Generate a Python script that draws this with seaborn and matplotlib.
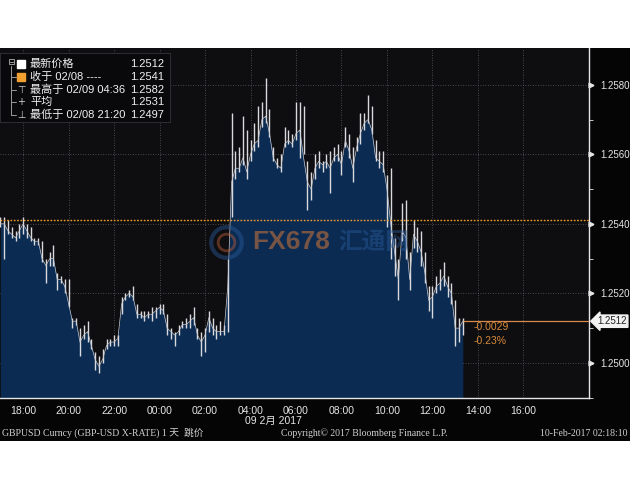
import pandas as pd
import matplotlib
matplotlib.use("Agg")
import matplotlib.pyplot as plt
import matplotlib.dates as mdates
import matplotlib.transforms as mtransforms
import seaborn as sns

# 10-minute bars, GBPUSD, 2017-02-08 17:00 -> 2017-02-09 13:20
start = "2017-02-08 17:00"
close = [1.2540, 1.2540, 1.2538, 1.2537, 1.2536, 1.2538, 1.2540, 1.2538, 1.2536, 1.2535,
         1.2535, 1.2530, 1.2528, 1.2530, 1.2530, 1.2524, 1.2524, 1.2522, 1.2517, 1.2512,
         1.2512, 1.2506, 1.2508, 1.2509, 1.2505, 1.2501, 1.2499, 1.2501, 1.2505, 1.2506,
         1.2506, 1.2507, 1.2517, 1.2519, 1.2520, 1.2519, 1.2514, 1.2514, 1.2513, 1.2514,
         1.2514, 1.2515, 1.2516, 1.2515, 1.2510, 1.2509, 1.2508, 1.2509, 1.2511, 1.2511,
         1.2512, 1.2513, 1.2508, 1.2506, 1.2508, 1.2513, 1.2510, 1.2509, 1.2509, 1.2509,
         1.2522, 1.2552, 1.2556, 1.2556, 1.2559, 1.2555, 1.2560, 1.2563, 1.2564, 1.2570,
         1.2571, 1.2566, 1.2559, 1.2557, 1.2556, 1.2563, 1.2564, 1.2563, 1.2566, 1.2567,
         1.2559, 1.2552, 1.2550, 1.2556, 1.2558, 1.2557, 1.2558, 1.2556, 1.2559, 1.2560,
         1.2557, 1.2564, 1.2561, 1.2556, 1.2562, 1.2566, 1.2569, 1.2570, 1.2567, 1.2559,
         1.2558, 1.2557, 1.2550, 1.2540, 1.2532, 1.2524, 1.2538, 1.2536, 1.2524, 1.2537,
         1.2535, 1.2532, 1.2526, 1.2518, 1.2519, 1.2522, 1.2523, 1.2525, 1.2522, 1.2520,
         1.2510, 1.2510, 1.2512]
high = [1.2542, 1.2542, 1.2541, 1.2539, 1.2538, 1.2540, 1.2542, 1.2540, 1.2539, 1.2536,
        1.2536, 1.2535, 1.2530, 1.2532, 1.2534, 1.2526, 1.2525, 1.2524, 1.2524, 1.2513,
        1.2513, 1.2510, 1.2511, 1.2512, 1.2507, 1.2503, 1.2502, 1.2504, 1.2507, 1.2507,
        1.2508, 1.2508, 1.2519, 1.2520, 1.2521, 1.2522, 1.2517, 1.2515, 1.2515, 1.2515,
        1.2516, 1.2516, 1.2517, 1.2517, 1.2514, 1.2510, 1.2509, 1.2511, 1.2512, 1.2513,
        1.2514, 1.2516, 1.2510, 1.2509, 1.2510, 1.2515, 1.2513, 1.2511, 1.2512, 1.2511,
        1.2530, 1.2572, 1.2561, 1.2562, 1.2571, 1.2567, 1.2564, 1.2569, 1.2574, 1.2575,
        1.2582, 1.2573, 1.2562, 1.2559, 1.2560, 1.2568, 1.2567, 1.2566, 1.2575, 1.2575,
        1.2574, 1.2558, 1.2555, 1.2560, 1.2561, 1.2558, 1.2560, 1.2561, 1.2562, 1.2563,
        1.2561, 1.2568, 1.2566, 1.2562, 1.2565, 1.2572, 1.2572, 1.2577, 1.2574, 1.2564,
        1.2561, 1.2561, 1.2554, 1.2556, 1.2536, 1.2530, 1.2546, 1.2547, 1.2532, 1.2541,
        1.2539, 1.2538, 1.2532, 1.2522, 1.2522, 1.2525, 1.2527, 1.2529, 1.2525, 1.2523,
        1.2518, 1.2513, 1.2513]
low = [1.2539, 1.2530, 1.2537, 1.2536, 1.2535, 1.2536, 1.2537, 1.2536, 1.2535, 1.2534,
       1.2534, 1.2529, 1.2523, 1.2528, 1.2528, 1.2521, 1.2523, 1.2520, 1.2516, 1.2510,
       1.2511, 1.2502, 1.2507, 1.2506, 1.2504, 1.2498, 1.2497, 1.2500, 1.2504, 1.2505,
       1.2505, 1.2505, 1.2514, 1.2518, 1.2519, 1.2518, 1.2513, 1.2513, 1.2512, 1.2513,
       1.2512, 1.2513, 1.2514, 1.2514, 1.2508, 1.2507, 1.2505, 1.2508, 1.2510, 1.2510,
       1.2510, 1.2511, 1.2507, 1.2502, 1.2503, 1.2509, 1.2508, 1.2507, 1.2508, 1.2508,
       1.2509, 1.2542, 1.2553, 1.2555, 1.2557, 1.2553, 1.2558, 1.2561, 1.2562, 1.2568,
       1.2569, 1.2565, 1.2558, 1.2556, 1.2555, 1.2562, 1.2563, 1.2562, 1.2564, 1.2559,
       1.2560, 1.2544, 1.2547, 1.2553, 1.2556, 1.2555, 1.2556, 1.2549, 1.2558, 1.2558,
       1.2554, 1.2562, 1.2559, 1.2552, 1.2561, 1.2563, 1.2567, 1.2569, 1.2566, 1.2558,
       1.2556, 1.2555, 1.2539, 1.2530, 1.2525, 1.2518, 1.2535, 1.2530, 1.2521, 1.2533,
       1.2532, 1.2528, 1.2523, 1.2515, 1.2513, 1.2520, 1.2521, 1.2522, 1.2519, 1.2517,
       1.2505, 1.2506, 1.2508]

prev_close = 1.2541
last_price = 1.2512
change_abs = "-0.0029"
change_pct = "-0.23%"
y_ticks = [1.2500, 1.2520, 1.2540, 1.2560, 1.2580]
legend_labels = ["最新价格", "收于 02/08 ----", "最高于 02/09 04:36", "平均", "最低于 02/08 21:20"]
legend_values = ["1.2512", "1.2541", "1.2582", "1.2531", "1.2497"]

times = pd.date_range(start, periods=len(close), freq="10min")
df = pd.DataFrame({"time": times, "close": close, "high": high, "low": low})
major_ticks = pd.date_range("2017-02-08 18:00", "2017-02-09 16:00", freq="2h")
minor_ticks = pd.date_range("2017-02-08 17:00", "2017-02-09 18:00", freq="1h")

sns.set_style("white")
plt.rcParams["font.family"] = ["Liberation Sans", "Noto Sans CJK SC"]
cjk = ["Noto Sans CJK SC", "DejaVu Sans"]
mixed = ["Liberation Sans", "Noto Sans CJK SC"]

fig = plt.figure(figsize=(6.3, 4.9), dpi=100, facecolor="white")
# black bloomberg panel behind everything
bg = fig.add_axes([0, 1 - 441 / 490, 1, (441 - 48) / 490], zorder=0)
bg.set_facecolor("#050505")
bg.set_xticks([])
bg.set_yticks([])
for s in bg.spines.values():
    s.set_visible(False)

ax = fig.add_axes([0, 1 - 398 / 490, 589 / 630, 350 / 490], zorder=2)
ax.set_facecolor("#0e0e11")

ax.fill_between(df["time"], df["close"], 1.2480, color="#0b2b52", lw=0, zorder=2)
ax.vlines(df["time"], df["low"], df["high"], color="#dadade", lw=1.0, zorder=3)
sns.lineplot(data=df, x="time", y="close", ax=ax, color="#c8ccd4", lw=0.5, zorder=3)

x_left = pd.Timestamp("2017-02-08 16:59")
x_right = pd.Timestamp("2017-02-09 18:53")
ax.set_xlim(x_left, x_right)
ax.set_ylim(1.24899, 1.25906)

ax.axhline(prev_close, color="#f0a030", lw=1.0, ls=(0, (1.2, 1.2)), zorder=4)
ax.hlines(last_price, times[-1], x_right, color="#d98a4a", lw=0.9, zorder=4)
ax.annotate(change_abs, (times[-1], last_price), xytext=(11, -6), textcoords="offset pixels",
            color="#d98a3a", fontsize=7.5, va="center", ha="left")
ax.annotate(change_pct, (times[-1], last_price), xytext=(11, -20), textcoords="offset pixels",
            color="#d98a3a", fontsize=7.5, va="center", ha="left")

# grid
for t in major_ticks:
    ax.axvline(t, color="#5c5c62", lw=0.6, ls=(0, (1, 2)), zorder=1.5)
for y in y_ticks:
    ax.axhline(y, color="#5c5c62", lw=0.6, ls=(0, (1, 2)), zorder=1.5)

# axes styling
for s in ["left", "top"]:
    ax.spines[s].set_visible(False)
for s in ["right", "bottom"]:
    ax.spines[s].set_color("#e6e6e6")
    ax.spines[s].set_linewidth(1.0)

ax.set_xticks(major_ticks)
ax.set_xticks(minor_ticks, minor=True)
ax.xaxis.set_major_formatter(mdates.DateFormatter("%H:%M"))
ax.tick_params(axis="x", which="both", colors="#e6e6e6", direction="out", length=3,
               labelsize=7.5, pad=3)
ax.set_xlabel("")
ax.set_ylabel("")

ax.yaxis.tick_right()
ax.set_yticks(y_ticks)
ax.set_yticks([1.2490, 1.2510, 1.2530, 1.2550, 1.2570], minor=True)
ax.set_yticklabels([f"{v:.4f}" for v in y_ticks])
ax.tick_params(axis="y", which="both", colors="#e6e6e6", direction="out", length=3,
               labelsize=7, pad=5)
tr = mtransforms.blended_transform_factory(ax.transAxes, ax.transData)
ax.plot([1.004] * len(y_ticks), y_ticks, ls="none", marker=">", ms=3.5, color="#e6e6e6",
        transform=tr, clip_on=False, zorder=6)
ax.text(1.014, last_price, f"{last_price:.4f}", transform=tr, ha="left", va="center",
        fontsize=7, color="#202020",
        bbox=dict(boxstyle="larrow,pad=0.12", fc="#f2f2f2", ec="#f2f2f2"))

# watermark
ax.plot([0.383], [0.446], marker="o", ms=22, mfc="none", mec="#2a5a9a", mew=3, alpha=0.45,
        transform=ax.transAxes, zorder=5)
ax.plot([0.383], [0.446], marker="o", ms=12, mfc="none", mec="#c0603a", mew=2, alpha=0.45,
        transform=ax.transAxes, zorder=5)
ax.text(0.428, 0.445, "FX678", transform=ax.transAxes, fontsize=19, fontweight="bold",
        color="#c0703a", alpha=0.6, va="center", ha="left", zorder=5)
ax.text(0.575, 0.445, "汇通网", transform=ax.transAxes, fontsize=17, fontweight="bold",
        color="#2a5a9a", alpha=0.45, va="center", ha="left", family=cjk, zorder=5)

# date under ticks and footer
fig.text(273 / 630, 1 - 421 / 490, "09 2月 2017", ha="center", va="center", fontsize=7.5,
         color="#e6e6e6", family=mixed, zorder=5)
foot = dict(va="center", fontsize=7, color="#d0d0d0", zorder=5,
            family=["Liberation Serif", "Noto Sans CJK SC"])
fig.text(2 / 630, 1 - 433 / 490, "GBPUSD Curncy (GBP-USD X-RATE) 1 天  跳价", ha="left", **foot)
fig.text(364 / 630, 1 - 433 / 490, "Copyright© 2017 Bloomberg Finance L.P.", ha="center", **foot)
fig.text(628 / 630, 1 - 433 / 490, "10-Feb-2017 02:18:10", ha="right", **foot)

# legend panel
lg = fig.add_axes([0, 1 - 122 / 490, 170 / 630, 69 / 490], zorder=4)
lg.set_facecolor("#09090b")
lg.set_xlim(0, 170)
lg.set_ylim(122, 53)
lg.set_xticks([])
lg.set_yticks([])
for s in lg.spines.values():
    s.set_color("#2c2c30")
    s.set_linewidth(0.8)
row_y = [64, 77, 90, 102, 115]
lg.plot([11, 11], [66, 115], color="#9a9a9a", lw=0.7)
lg.add_patch(plt.Rectangle((8.5, 59.5), 5, 5, fill=False, ec="#9a9a9a", lw=0.7))
lg.plot([9.5, 12.5], [62, 62], color="#9a9a9a", lw=0.7)
for y in row_y[1:]:
    lg.plot([11, 16], [y, y], color="#9a9a9a", lw=0.7)
lg.add_patch(plt.Rectangle((17, row_y[0] - 4), 8, 8, color="white"))
lg.add_patch(plt.Rectangle((17, row_y[1] - 4), 8, 8, color="#f0a030"))
lg.text(21, row_y[2], "⊤", ha="center", va="center", color="#cfcfcf", fontsize=7, family=["DejaVu Sans"])
lg.text(21, row_y[3], "+", ha="center", va="center", color="#cfcfcf", fontsize=7, family=["DejaVu Sans"])
lg.text(21, row_y[4], "⊥", ha="center", va="center", color="#cfcfcf", fontsize=7, family=["DejaVu Sans"])
for y, lab, val in zip(row_y, legend_labels, legend_values):
    lg.text(30, y, lab, ha="left", va="center", color="#f0f0f0", fontsize=8, family=mixed)
    lg.text(164, y, val, ha="right", va="center", color="#f0f0f0", fontsize=8)

fig.savefig("out.png", dpi=100, facecolor="white")
